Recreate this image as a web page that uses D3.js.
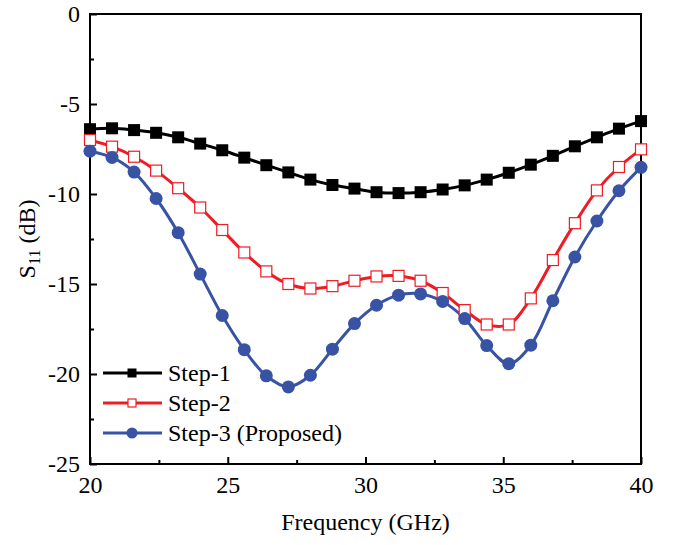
<!DOCTYPE html>
<html>
<head>
<meta charset="utf-8">
<script src="https://cdn.jsdelivr.net/npm/d3@7"></script>
<style>
  body { margin: 0; background: #fff; }
  svg { font-family: "Liberation Serif", "Times New Roman", serif; }
</style>
</head>
<body>
<svg id="chart" width="676" height="545"></svg>
<script>
// frequency points (GHz), one every 0.8 GHz
const freq = [20, 20.8, 21.6, 22.4, 23.2, 24, 24.8, 25.6, 26.4, 27.2, 28, 28.8, 29.6,
              30.4, 31.2, 32, 32.8, 33.6, 34.4, 35.2, 36, 36.8, 37.6, 38.4, 39.2, 40];

const step1 = [-6.4, -6.35, -6.45, -6.6, -6.85, -7.2, -7.57, -7.98, -8.4, -8.8, -9.2, -9.5, -9.7,
               -9.9, -9.95, -9.9, -9.75, -9.52, -9.2, -8.82, -8.37, -7.88, -7.35, -6.85, -6.37, -5.95];
const step2 = [-7.0, -7.37, -7.93, -8.7, -9.68, -10.75, -12.0, -13.25, -14.3, -15.0, -15.25, -15.12, -14.82,
               -14.58, -14.55, -14.82, -15.5, -16.45, -17.25, -17.25, -15.8, -13.67, -11.62, -9.8, -8.5, -7.52];
const step3 = [-7.62, -7.97, -8.78, -10.25, -12.15, -14.45, -16.75, -18.65, -20.1, -20.72, -20.07, -18.62, -17.2,
               -16.18, -15.62, -15.55, -15.97, -16.92, -18.42, -19.43, -18.4, -15.93, -13.5, -11.5, -9.82, -8.52];

const seriesNames = ["Step-1", "Step-2", "Step-3 (Proposed)"];
const seriesColors = ["#000000", "#ee1c25", "#3953a4"];

const xTicks = [20, 25, 30, 35, 40];
const yTicks = [0, -5, -10, -15, -20, -25];

const svg = d3.select("#chart");
const margin = {left: 90, top: 14, right: 35, bottom: 81};
const W = 676, H = 545;
const fs = 24;

const x = d3.scaleLinear().domain([20, 40]).range([margin.left, W - margin.right]);
const y = d3.scaleLinear().domain([-25, 0]).range([H - margin.bottom, margin.top]);

const series = [step1, step2, step3].map((vals, i) => ({
    name: seriesNames[i],
    color: seriesColors[i],
    points: freq.map((f, j) => ({f: f, v: vals[j]}))
}));

const line = d3.line()
    .x(d => x(d.f))
    .y(d => y(d.v))
    .curve(d3.curveCatmullRom.alpha(0.5));

// ticks (inward), major + minor
const xMinor = d3.range(22.5, 40, 5);
const yMinor = d3.range(-2.5, -25, -5);

const xAxis = d3.axisBottom(x).tickValues(xTicks).tickSize(-7).tickPadding(12).tickFormat(d3.format("d"));
const yAxis = d3.axisLeft(y).tickValues(yTicks).tickSize(-7).tickPadding(10).tickFormat(d => String(d));

const gx = svg.append("g").attr("transform", `translate(0,${y(-25)})`).call(xAxis);
const gy = svg.append("g").attr("transform", `translate(${x(20)},0)`).call(yAxis);

svg.append("g").attr("transform", `translate(0,${y(-25)})`)
    .call(d3.axisBottom(x).tickValues(xMinor).tickSize(-4).tickFormat(""))
    .select(".domain").remove();
svg.append("g").attr("transform", `translate(${x(20)},0)`)
    .call(d3.axisLeft(y).tickValues(yMinor).tickSize(-4).tickFormat(""))
    .select(".domain").remove();

svg.selectAll(".tick line").attr("stroke", "#000").attr("stroke-width", 2);
[gx, gy].forEach(g => {
    g.select(".domain").remove();
    g.selectAll("text").attr("font-size", fs).attr("fill", "#000")
        .style("font-family", "Liberation Serif");
});

// frame
svg.append("rect")
    .attr("x", x(20)).attr("y", y(0))
    .attr("width", x(40) - x(20)).attr("height", y(-25) - y(0))
    .attr("fill", "none").attr("stroke", "#000").attr("stroke-width", 2);

// curves
const plot = svg.append("g");
series.forEach(s => {
    plot.append("path")
        .datum(s.points)
        .attr("d", line)
        .attr("fill", "none")
        .attr("stroke", s.color)
        .attr("stroke-width", 3);
});

function drawMarker(g, idx, cx, cy, size) {
    if (idx === 0) {
        g.append("rect").attr("x", cx - size / 2).attr("y", cy - size / 2)
            .attr("width", size).attr("height", size).attr("fill", "#000");
    } else if (idx === 1) {
        g.append("rect").attr("x", cx - size / 2 + 0.5).attr("y", cy - size / 2 + 0.5)
            .attr("width", size - 1).attr("height", size - 1)
            .attr("fill", "#fff").attr("stroke", seriesColors[1]).attr("stroke-width", 1.2);
    } else {
        g.append("circle").attr("cx", cx).attr("cy", cy).attr("r", size / 2)
            .attr("fill", seriesColors[2]);
    }
}

series.forEach((s, i) => {
    const g = plot.append("g");
    s.points.forEach(p => drawMarker(g, i, x(p.f), y(p.v), i === 2 ? 13 : 12));
});

// legend
const legend = svg.append("g");
series.forEach((s, i) => {
    const ly = 373 + i * 30;
    legend.append("line")
        .attr("x1", 103).attr("x2", 162).attr("y1", ly).attr("y2", ly)
        .attr("stroke", s.color).attr("stroke-width", 3);
    drawMarker(legend, i, 132, ly, i === 2 ? 11 : 9);
    legend.append("text")
        .attr("x", 168).attr("y", ly + 8)
        .attr("font-size", fs)
        .text(s.name);
});

// axis titles
svg.append("text")
    .attr("x", (x(20) + x(40)) / 2).attr("y", 530)
    .attr("text-anchor", "middle").attr("font-size", fs)
    .text("Frequency (GHz)");

const yt = svg.append("text")
    .attr("transform", `translate(35,${(y(0) + y(-25)) / 2}) rotate(-90)`)
    .attr("text-anchor", "middle").attr("font-size", fs);
yt.append("tspan").text("S");
yt.append("tspan").attr("font-size", 16).attr("dy", 5).text("11");
yt.append("tspan").attr("dy", -5).text(" (dB)");
</script>
</body>
</html>
